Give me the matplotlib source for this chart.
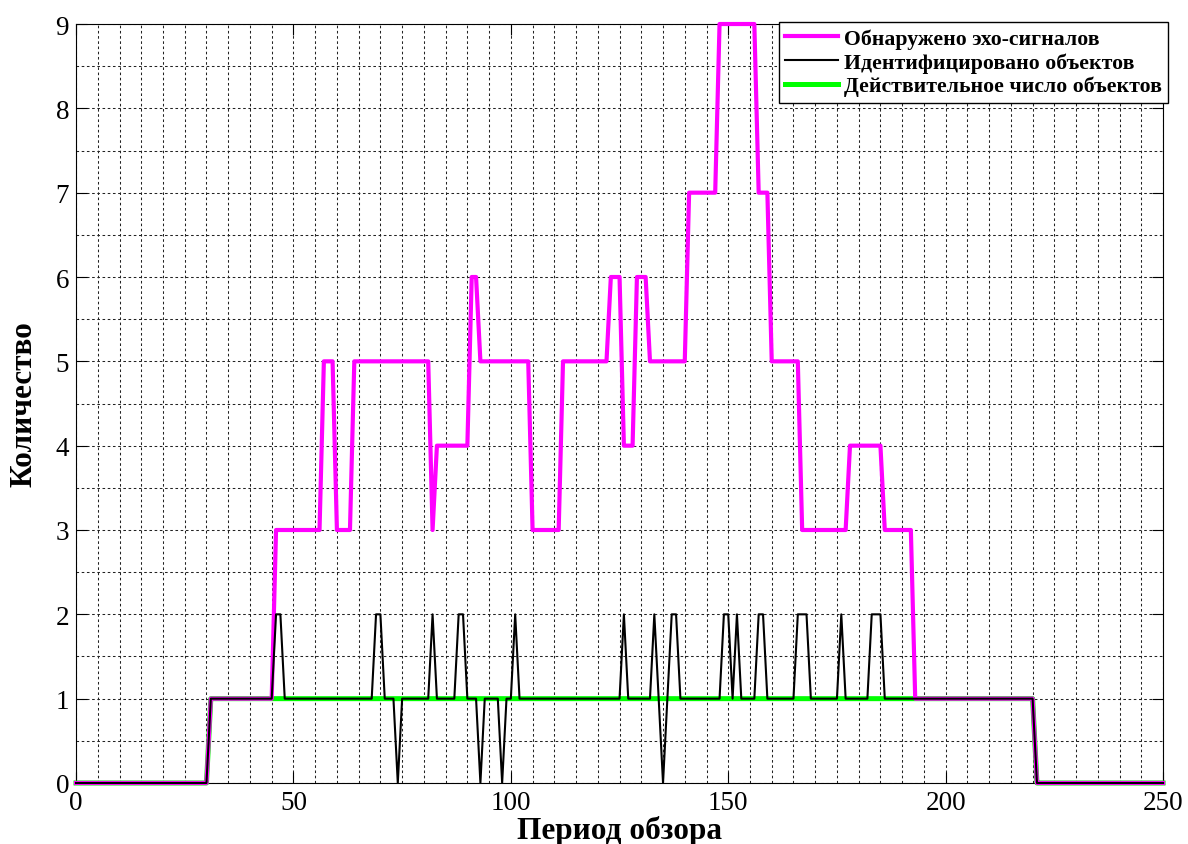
import numpy as np
import matplotlib
matplotlib.use("Agg")
import matplotlib.pyplot as plt
from matplotlib.ticker import MultipleLocator

plt.rcParams['font.family'] = ['Liberation Serif', 'DejaVu Serif']

# scan periods 0..250, values held as runs: level starting at a given period
n_periods = 250
periods = np.arange(0, n_periods + 1)

echo_starts = [0, 31, 46, 57, 60, 64, 82, 83, 91, 93, 105, 112, 123, 126, 129,
               132, 141, 148, 157, 160, 167, 178, 186, 193, 221]
echo_levels = [0, 1, 3, 5, 3, 5, 3, 4, 6, 5, 3, 5, 6, 4, 6,
               5, 7, 9, 7, 5, 3, 4, 3, 1, 0]

ident_starts = [0, 31, 46, 48, 69, 71, 74, 75, 82, 83,
                88, 90, 93, 94, 98, 99, 101, 102, 126, 127,
                133, 134, 135, 136, 137, 139, 149, 151, 152, 153,
                157, 159, 166, 169, 176, 177, 183, 186, 221]
ident_levels = [0, 1, 2, 1, 2, 1, 0, 1, 2, 1,
                2, 1, 0, 1, 0, 1, 2, 1, 2, 1,
                2, 1, 0, 1, 2, 1, 2, 1, 2, 1,
                2, 1, 2, 1, 2, 1, 2, 1, 0]

actual_starts = [0, 31, 221]
actual_levels = [0, 1, 0]

labels = ['Обнаружено эхо-сигналов',
          'Идентифицировано объектов',
          'Действительное число объектов']


def expand(starts, levels):
    lengths = np.diff(starts + [n_periods + 1])
    return np.repeat(levels, lengths)


echo = expand(echo_starts, echo_levels)
ident = expand(ident_starts, ident_levels)
actual = expand(actual_starts, actual_levels)

fig = plt.figure(figsize=(11.88, 8.45), dpi=100)
ax = fig.add_axes([0.064, 0.0722, 0.915, 0.8982])

l_actual, = ax.plot(periods, actual, color='#00ff00', lw=3.6, zorder=3, clip_on=False)
l_echo, = ax.plot(periods, echo, color='#ff00ff', lw=3.0, zorder=4, clip_on=False)
l_ident, = ax.plot(periods, ident, color='black', lw=1.5, zorder=5, clip_on=False)

ax.set_xlim(0, 250)
ax.set_ylim(0, 9)
ax.xaxis.set_major_locator(MultipleLocator(50))
ax.xaxis.set_minor_locator(MultipleLocator(5))
ax.yaxis.set_major_locator(MultipleLocator(1))
ax.yaxis.set_minor_locator(MultipleLocator(0.5))

ax.grid(True, which='both', color='#222222', linestyle=(0, (2.5, 2.5)), lw=0.75)
ax.set_axisbelow(True)
ax.tick_params(which='major', direction='in', length=8, width=0.8,
               top=True, right=True, labelsize=19.5, pad=5)
ax.tick_params(which='minor', length=0)
for s in ax.spines.values():
    s.set_linewidth(0.8)

ax.set_xlabel('Период обзора', fontsize=22.5, fontweight='bold', labelpad=0)
ax.set_ylabel('Количество', fontsize=22.5, fontweight='bold', labelpad=12)

leg = ax.legend([l_echo, l_ident, l_actual], labels, loc='upper right',
                bbox_to_anchor=(1.005, 1.003), borderaxespad=0,
                prop={'weight': 'bold', 'size': 15.7}, handlelength=2.4,
                handletextpad=0.3, labelspacing=0.15, borderpad=0.3,
                fancybox=False, framealpha=1, edgecolor='black')
leg.get_frame().set_linewidth(1.0)
leg.set_zorder(10)

fig.savefig('out.png', dpi=100)
